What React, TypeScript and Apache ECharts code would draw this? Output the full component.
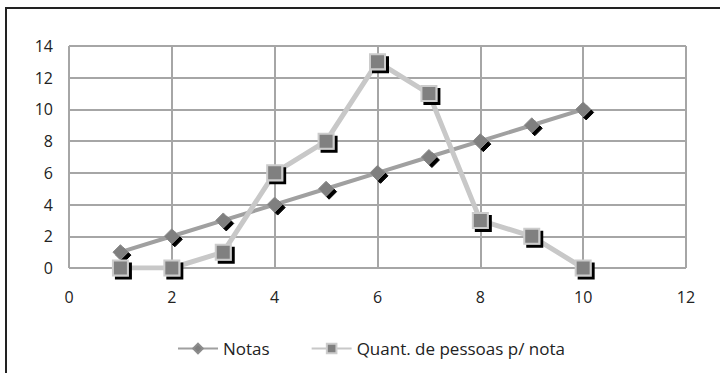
import React, { useEffect, useRef } from "react";
import * as echarts from "echarts";

const xValues = [1, 2, 3, 4, 5, 6, 7, 8, 9, 10];
const notas = [1, 2, 3, 4, 5, 6, 7, 8, 9, 10];
const quant = [0, 0, 1, 6, 8, 13, 11, 3, 2, 0];
const seriesNames = ["Notas", "Quant. de pessoas p/ nota"];

export default function App() {
  const ref = useRef<HTMLDivElement>(null);
  useEffect(() => {
    const chart = echarts.init(ref.current!, null, { renderer: "svg" });
    const font = "'Open Sans', 'Noto Sans', sans-serif";
    chart.setOption({
      animation: false,
      backgroundColor: "#ffffff",
      graphic: [
        {
          type: "rect",
          shape: { x: 6, y: 8, width: 730, height: 380 },
          style: { fill: "none", stroke: "#222", lineWidth: 2 },
          silent: true,
        },
      ],
      grid: { left: 69, right: 34, top: 46, bottom: 105 },
      xAxis: {
        type: "value",
        min: 0,
        max: 12,
        interval: 2,
        axisLine: { show: false },
        axisTick: { show: false },
        axisLabel: { color: "#222", fontSize: 16, fontFamily: font, margin: 21 },
        splitLine: { show: true, lineStyle: { color: "#a6a6a6", width: 2 } },
      },
      yAxis: {
        type: "value",
        min: 0,
        max: 14,
        interval: 2,
        axisLine: { show: false },
        axisTick: { show: false },
        axisLabel: { color: "#222", fontSize: 16, fontFamily: font, margin: 16 },
        splitLine: { show: true, lineStyle: { color: "#a6a6a6", width: 2 } },
      },
      legend: {
        top: 335,
        left: 172,
        itemGap: 41,
        itemWidth: 40,
        itemHeight: 12,
        textStyle: { color: "#222", fontSize: 17, fontFamily: font },
        data: seriesNames,
      },
      series: [
        {
          name: seriesNames[0],
          type: "line",
          data: xValues.map((x, i) => [x, notas[i]]),
          symbol: "diamond",
          symbolSize: 15,
          lineStyle: { color: "#a0a0a0", width: 4 },
          itemStyle: {
            color: "#7f7f7f",
            borderColor: "#8c8c8c",
            borderWidth: 1,
            shadowColor: "#000",
            shadowOffsetX: 3,
            shadowOffsetY: 3,
            shadowBlur: 0,
          },
          z: 2,
        },
        {
          name: seriesNames[1],
          type: "line",
          data: xValues.map((x, i) => [x, quant[i]]),
          symbol: "rect",
          symbolSize: 15,
          lineStyle: { color: "#c8c8c8", width: 5 },
          itemStyle: {
            color: "#808080",
            borderColor: "#cccccc",
            borderWidth: 2,
            shadowColor: "#000",
            shadowOffsetX: 3,
            shadowOffsetY: 3,
            shadowBlur: 0,
          },
          z: 3,
        },
      ],
    });
    return () => chart.dispose();
  }, []);
  return <div ref={ref} style={{ width: 720, height: 373, position: "absolute", left: 0, top: 0 }} />;
}
